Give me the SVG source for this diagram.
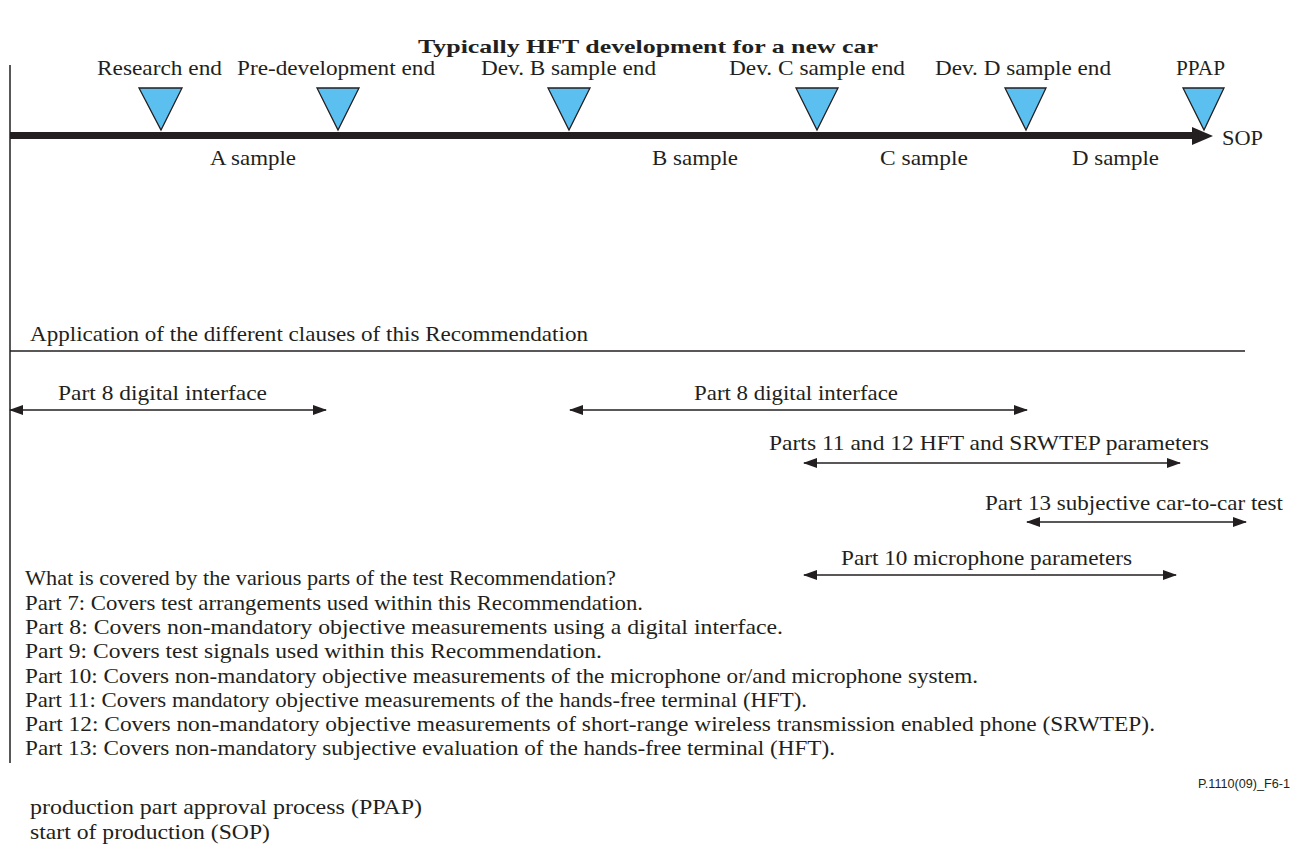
<svg xmlns="http://www.w3.org/2000/svg" width="1295" height="845" viewBox="0 0 1295 845">
<style>
.t{font-family:"Liberation Serif","Times New Roman",serif;font-size:21px;fill:#231f20}
.b{font-weight:bold;font-size:19px}
.s{font-family:"Liberation Sans",Arial,sans-serif;font-size:12px;fill:#231f20}
.ms{fill:#5bbff0;stroke:#231f20;stroke-width:1.3;stroke-linejoin:miter}
.ln{stroke:#231f20;stroke-width:1.5;fill:none}
.ar{stroke:#231f20;stroke-width:1.5;fill:none;marker-start:url(#ah);marker-end:url(#ah)}
</style>
<defs>
<marker id="ah" markerUnits="userSpaceOnUse" markerWidth="14" markerHeight="10" refX="13" refY="5" orient="auto-start-reverse" viewBox="0 0 14 10">
<path d="M0,0 L14,5 L0,10 z" fill="#231f20"/>
</marker>
</defs>
<rect width="1295" height="845" fill="#ffffff"/>
<g id="title"><text class="t b" x="418" y="53" textLength="460" lengthAdjust="spacingAndGlyphs">Typically HFT development for a new car</text></g>
<g id="connectors">
<line class="ln" x1="10" y1="65" x2="10" y2="763"/>
<line x1="10" y1="135.5" x2="1194" y2="135.5" stroke="#231f20" stroke-width="7"/>
<polygon points="1192,127 1213,136 1192,145" fill="#231f20"/>
<line class="ln" x1="10" y1="351" x2="1245" y2="351"/>
<line class="ar" x1="10" y1="410" x2="326" y2="410"/>
<line class="ar" x1="570" y1="410" x2="1027" y2="410"/>
<line class="ar" x1="804" y1="463" x2="1180" y2="463"/>
<line class="ar" x1="1027" y1="522" x2="1246" y2="522"/>
<line class="ar" x1="804" y1="575" x2="1176" y2="575"/>
</g>
<g id="m-research"><polygon class="ms" points="139,88 182,88 161,130"/><text class="t" x="97" y="75" textLength="125" lengthAdjust="spacingAndGlyphs">Research end</text></g>
<g id="m-predev"><polygon class="ms" points="317,88 359,88 338,130"/><text class="t" x="237" y="75" textLength="198" lengthAdjust="spacingAndGlyphs">Pre-development end</text></g>
<g id="m-devb"><polygon class="ms" points="548,88 590,88 569,130"/><text class="t" x="481" y="75" textLength="175" lengthAdjust="spacingAndGlyphs">Dev. B sample end</text></g>
<g id="m-devc"><polygon class="ms" points="796,88 838,88 817,130"/><text class="t" x="729" y="75" textLength="176" lengthAdjust="spacingAndGlyphs">Dev. C sample end</text></g>
<g id="m-devd"><polygon class="ms" points="1005,88 1046,88 1026,130"/><text class="t" x="935" y="75" textLength="176" lengthAdjust="spacingAndGlyphs">Dev. D sample end</text></g>
<g id="m-ppap"><polygon class="ms" points="1183,88 1224,88 1204,130"/><text class="t" x="1176" y="75" textLength="49" lengthAdjust="spacingAndGlyphs">PPAP</text></g>
<g id="sop"><text class="t" x="1222" y="145" textLength="41" lengthAdjust="spacingAndGlyphs">SOP</text></g>
<g id="samples">
<text class="t" x="210" y="165" textLength="86" lengthAdjust="spacingAndGlyphs">A sample</text>
<text class="t" x="652" y="165" textLength="86" lengthAdjust="spacingAndGlyphs">B sample</text>
<text class="t" x="880" y="165" textLength="88" lengthAdjust="spacingAndGlyphs">C sample</text>
<text class="t" x="1072" y="165" textLength="87" lengthAdjust="spacingAndGlyphs">D sample</text>
</g>
<g id="application"><text class="t" x="30" y="341" textLength="558" lengthAdjust="spacingAndGlyphs">Application of the different clauses of this Recommendation</text></g>
<g id="span-part8a"><text class="t" x="58" y="400" textLength="209" lengthAdjust="spacingAndGlyphs">Part 8 digital interface</text></g>
<g id="span-part8b"><text class="t" x="694" y="400" textLength="204" lengthAdjust="spacingAndGlyphs">Part 8 digital interface</text></g>
<g id="span-part11-12"><text class="t" x="769" y="450" textLength="440" lengthAdjust="spacingAndGlyphs">Parts 11 and 12 HFT and SRWTEP parameters</text></g>
<g id="span-part13"><text class="t" x="985" y="510" textLength="298" lengthAdjust="spacingAndGlyphs">Part 13 subjective car-to-car test</text></g>
<g id="span-part10"><text class="t" x="841" y="565" textLength="291" lengthAdjust="spacingAndGlyphs">Part 10 microphone parameters</text></g>
<g id="list">
<text class="t" x="25" y="585" textLength="591" lengthAdjust="spacingAndGlyphs">What is covered by the various parts of the test Recommendation?</text>
<text class="t" x="25" y="610" textLength="618" lengthAdjust="spacingAndGlyphs">Part 7: Covers test arrangements used within this Recommendation.</text>
<text class="t" x="25" y="634" textLength="758" lengthAdjust="spacingAndGlyphs">Part 8: Covers non-mandatory objective measurements using a digital interface.</text>
<text class="t" x="25" y="658" textLength="577" lengthAdjust="spacingAndGlyphs">Part 9: Covers test signals used within this Recommendation.</text>
<text class="t" x="25" y="683" textLength="953" lengthAdjust="spacingAndGlyphs">Part 10: Covers non-mandatory objective measurements of the microphone or/and microphone system.</text>
<text class="t" x="25" y="707" textLength="782" lengthAdjust="spacingAndGlyphs">Part 11: Covers mandatory objective measurements of the hands-free terminal (HFT).</text>
<text class="t" x="25" y="731" textLength="1130" lengthAdjust="spacingAndGlyphs">Part 12: Covers non-mandatory objective measurements of  short-range wireless transmission enabled phone (SRWTEP).</text>
<text class="t" x="25" y="755" textLength="810" lengthAdjust="spacingAndGlyphs">Part 13: Covers non-mandatory subjective evaluation of the hands-free terminal (HFT).</text>
</g>
<g id="figid"><text class="s" x="1198" y="788" textLength="92" lengthAdjust="spacingAndGlyphs">P.1110(09)_F6-1</text></g>
<g id="legend">
<text class="t" x="30" y="814" textLength="392" lengthAdjust="spacingAndGlyphs">production part approval process (PPAP)</text>
<text class="t" x="30" y="839" textLength="240" lengthAdjust="spacingAndGlyphs">start of production (SOP)</text>
</g>
</svg>
